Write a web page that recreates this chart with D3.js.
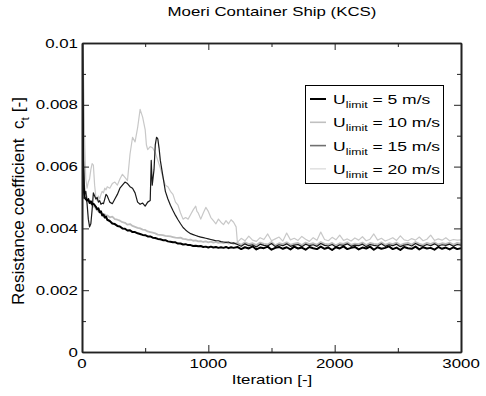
<!DOCTYPE html>
<html><head><meta charset="utf-8">
<script src="https://cdn.jsdelivr.net/npm/d3@7"></script>
<style>
body{margin:0;background:#fff}
text{fill:#000;white-space:pre}
</style>
</head><body>
<svg id="chart" width="486" height="396" font-family="'Liberation Sans', Arimo, Arial, Helvetica, sans-serif"></svg>
<script>
// ---------- DATA (resistance coefficient in units of 1e-3) ----------
const seriesNames = ["5 m/s", "10 m/s", "15 m/s", "20 m/s"];

const iterA = [0,5,10,15,20,30,40,50,60,70,80,90,100,110,120,130,140,150,160,170,180,190,200,
  220,240,260,280,300,320,340,360,380,400,420,440,460,480,500,520,540,560,580,600,620,640,660,680,700,
  720,740,760,780,800,820,840,860,880,900,920,940,960,980,1000,1020,1040,1060,1080,1100,1120,1140,1160,1180,1200];

const iter15 = [0,5,10,15,20,30,40,50,60,70,80,90,100,110,120,130,140,150,160,170,180,190,200,
  220,240,260,280,300,320,340,360,380,400,420,440,460,480,500,520,540,548,556,570,580,590,600,610,620,
  640,660,680,700,720,740,760,780,800,820,840,860,880,900,920,940,960,980,1000,1020,1040,1060,1080,1100,1120,1140,1160,1180,1200];

const iter20 = [0,10,20,30,40,50,60,70,80,90,100,110,120,130,140,150,160,170,180,190,200,
  220,240,260,280,300,320,340,360,380,400,420,440,460,480,500,510,
  520,540,560,580,600,620,640,660,680,700,720,740,760,780,800,820,840,860,880,900,910,
  920,940,960,980,1000,1020,1040,1060,1080,1100,1120,1140,1160,1180,1200,1220];

const iterTail = [1230,1260,1290,1320,1350,1380,1410,1440,1470,1500,
  1530,1560,1590,1620,1650,1680,1710,1740,1770,1800,
  1830,1860,1890,1920,1950,1980,2010,2040,2070,2100,
  2130,2160,2190,2220,2250,2280,2310,2340,2370,2400,
  2430,2460,2490,2520,2550,2580,2610,2640,2670,2700,
  2730,2760,2790,2820,2850,2880,2910,2940,2970,3000];

const ct5Head = [12.0,8.5,6.0,5.2,5.0,4.95,4.9,4.95,4.82,4.88,4.78,4.8,4.75,4.7,4.62,4.65,4.52,4.55,4.42,4.45,4.35,4.38,4.28,
  4.24,4.16,4.14,4.08,4.06,4.00,3.99,3.93,3.94,3.88, 3.88,3.84,3.82,3.79,3.78,3.74,3.74,3.70,3.69,3.66,
  3.65,3.62,3.62,3.58,3.57,3.55,3.55,3.51,3.51,3.48, 3.49,3.46,3.46,3.43,3.44,3.42,3.43,3.40,3.41,3.38,
  3.41,3.38,3.40,3.37,3.39,3.37,3.40,3.36,3.39,3.37];
const ct5Tail = [3.40,3.33,3.39,3.35,3.42,3.32,3.38,3.36,3.41,3.31,
  3.37,3.40,3.34,3.39,3.32,3.41,3.35,3.38,3.31,3.40,
  3.36,3.33,3.41,3.34,3.38,3.30,3.39,3.35,3.42,3.33,
  3.37,3.40,3.32,3.38,3.35,3.41,3.31,3.39,3.34,3.37,
  3.42,3.33,3.38,3.30,3.40,3.36,3.34,3.41,3.32,3.39,
  3.35,3.37,3.31,3.40,3.34,3.38,3.32,3.39,3.33,3.36];

const ct10Head = [11.0,8.0,6.2,5.5,5.3,5.1,5.0,4.9,4.85,4.8,4.75,4.7,4.72,4.62,4.6,4.55,4.56,4.5,4.48,4.45,4.46,4.4,4.42,
  4.36,4.38,4.30,4.28,4.25,4.20,4.18,4.12,4.14,4.08, 4.05,4.02,4.00,3.96,3.95,3.90,3.88,3.86,3.84,3.80,
  3.79,3.78,3.76,3.75,3.74,3.72,3.70,3.69,3.70,3.66, 3.65,3.63,3.64,3.60,3.61,3.58,3.59,3.56,3.58,3.55,
  3.57,3.54,3.56,3.53,3.55,3.52,3.55,3.51,3.54,3.50];
const ct10Tail = [3.53,3.47,3.55,3.49,3.52,3.46,3.54,3.50,3.48,3.56,
  3.45,3.52,3.49,3.55,3.47,3.51,3.53,3.46,3.54,3.49,
  3.52,3.47,3.56,3.50,3.48,3.53,3.45,3.52,3.50,3.55,
  3.47,3.51,3.49,3.54,3.46,3.53,3.50,3.48,3.55,3.47,
  3.52,3.49,3.54,3.46,3.51,3.53,3.48,3.56,3.50,3.47,
  3.53,3.49,3.55,3.48,3.52,3.50,3.54,3.47,3.53,3.51];

const ct15Head = [12.0,9.0,6.5,5.4,5.1,5.2,4.8,4.3,4.05,4.15,4.6,5.15,5.05,4.95,5.0,4.85,4.9,4.78,4.82,4.8,4.95,5.1,5.05,
  4.85,4.8,4.95,5.1,5.3,5.4,5.5,5.45,5.35,5.3,5.15,4.85,4.78,4.82,4.72,4.85,4.9,
  6.2,5.4,5.9,6.7,6.95,6.9,6.6,6.2,
  5.7,5.2,4.95,4.75,4.58,4.42,4.28,4.15,4.03,3.95,3.88,3.83,3.8,3.77,3.74,3.72,3.7,3.68,3.66,3.64,3.62,3.6,3.6,3.57,3.56,3.55,3.56,3.52,3.53];
const ct15Tail = [3.48,3.42,3.50,3.44,3.47,3.40,3.49,3.45,3.43,3.51,
  3.41,3.47,3.44,3.50,3.42,3.46,3.48,3.41,3.49,3.44,
  3.47,3.42,3.51,3.45,3.43,3.48,3.40,3.47,3.45,3.50,
  3.42,3.46,3.44,3.49,3.41,3.48,3.45,3.43,3.50,3.42,
  3.47,3.44,3.49,3.41,3.46,3.48,3.43,3.51,3.45,3.42,
  3.48,3.44,3.50,3.43,3.47,3.45,3.49,3.42,3.48,3.46];

const ct20Head = [12.0,9.5,7.0,5.6,5.3,5.5,5.6,5.9,6.1,6.05,5.4,5.0,4.9,5.05,4.95,5.1,5.2,5.15,5.3,5.25,5.35,
  5.3,5.45,5.5,5.4,5.6,5.75,5.65,5.55,6.4,6.95,6.8,7.25,7.85,7.6,7.2,6.7,
  6.55,6.65,6.6,6.45,6.2,5.95,5.65,5.4,5.35,5.2,5.1,4.85,4.75,4.5,4.3,4.35,4.3,4.45,4.6,4.72,4.55,
  4.5,4.3,4.5,4.68,4.55,4.35,4.25,4.15,4.3,4.2,4.12,4.25,4.15,4.28,4.2,4.05];
const ct20Tail = [3.55,3.68,3.60,3.75,3.62,3.58,3.70,3.64,3.82,3.60,
  3.66,3.72,3.59,3.85,3.63,3.68,3.61,3.74,3.65,3.58,
  3.70,3.62,3.88,3.64,3.60,3.71,3.63,3.78,3.61,3.66,
  3.59,3.69,3.62,3.73,3.60,3.65,3.82,3.62,3.68,3.59,
  3.64,3.70,3.61,3.76,3.63,3.60,3.67,3.62,3.72,3.60,
  3.65,3.78,3.61,3.66,3.62,3.70,3.60,3.64,3.62,3.63];

const xTickValues = [0,1000,2000,3000];
const xTickLabels = ["0","1000","2000","3000"];
const xMinorValues = [500,1500,2500];
const yTickValues = [0,2,4,6,8,10];
const yTickLabels = ["0","0.002","0.004","0.006","0.008","0.01"];
const yMinorValues = [1,3,5,7,9];
const titleText = "Moeri Container Ship (KCS)";
const xTitle = "Iteration [-]";

// ---------- BUILD ----------
const series = [
  {name:seriesNames[0], iter:iterA.concat(iterTail),  ct:ct5Head.concat(ct5Tail),  color:"#000000", w:2.0},
  {name:seriesNames[1], iter:iterA.concat(iterTail),  ct:ct10Head.concat(ct10Tail), color:"#bdbdbd", w:1.8},
  {name:seriesNames[2], iter:iter15.concat(iterTail), ct:ct15Head.concat(ct15Tail), color:"#1a1a1a", w:1.2},
  {name:seriesNames[3], iter:iter20.concat(iterTail), ct:ct20Head.concat(ct20Tail), color:"#c8c8c8", w:1.2}
];
const legendStyle = [
  {color:"#000000", w:2.0},{color:"#c0c0c0", w:1.6},{color:"#707070", w:1.6},{color:"#d0d0d0", w:1.0}
];

const svg = d3.select("#chart");
const x = d3.scaleLinear().domain([0,3000]).range([82,461]);
const y = d3.scaleLinear().domain([0,10]).range([352,43]);

svg.append("defs").append("clipPath").attr("id","clip")
  .append("rect").attr("x",82).attr("y",43).attr("width",379).attr("height",309);

const line = d3.line().x(d=>x(d[0])).y(d=>y(d[1]));
const plot = svg.append("g").attr("clip-path","url(#clip)");
[3,1,2,0].forEach(i=>{
  const s = series[i];
  plot.append("path")
    .datum(s.iter.map((it,k)=>[it,s.ct[k]]))
    .attr("d",line).attr("fill","none")
    .attr("stroke",s.color).attr("stroke-width",s.w).attr("stroke-linejoin","round");
});

// axes with inward ticks
function styleAxis(g){ g.selectAll("path,line").attr("stroke","#222"); g.selectAll("text").remove(); }
const mk = (axis, tr) => svg.append("g").attr("transform",tr).call(axis).call(styleAxis);
mk(d3.axisBottom(x).tickValues(xTickValues).tickSizeInner(-7).tickSizeOuter(0), "translate(0,352)");
mk(d3.axisBottom(x).tickValues(xMinorValues).tickSizeInner(-4).tickSizeOuter(0), "translate(0,352)");
mk(d3.axisTop(x).tickValues(xTickValues).tickSizeInner(-7).tickSizeOuter(0), "translate(0,43)");
mk(d3.axisTop(x).tickValues(xMinorValues).tickSizeInner(-4).tickSizeOuter(0), "translate(0,43)");
mk(d3.axisLeft(y).tickValues(yTickValues).tickSizeInner(-7).tickSizeOuter(0), "translate(82,0)");
mk(d3.axisLeft(y).tickValues(yMinorValues).tickSizeInner(-4).tickSizeOuter(0), "translate(82,0)");
mk(d3.axisRight(y).tickValues(yTickValues).tickSizeInner(-7).tickSizeOuter(0), "translate(461,0)");
mk(d3.axisRight(y).tickValues(yMinorValues).tickSizeInner(-4).tickSizeOuter(0), "translate(461,0)");
svg.selectAll(".domain").attr("stroke","#222").attr("stroke-width",1.6);

// the original figure's text is horizontally stretched; measure the font and match the title width
const probe = svg.append("text").attr("font-size",13).text(titleText);
const SX = 209 / probe.node().getComputedTextLength();
probe.remove();

function stext(xp, yp, str, anchor, size){
  return svg.append("text").attr("transform",`translate(${xp},${yp}) scale(${SX},1)`)
    .attr("text-anchor",anchor).attr("font-size",size).text(str);
}
// tick labels
xTickValues.forEach((v,i)=> stext(x(v), 368, xTickLabels[i], "middle", 13));
yTickValues.forEach((v,i)=> stext(78, y(v)+4.5, yTickLabels[i], "end", 13));

// title and axis titles
stext(272, 16, titleText, "middle", 13);
stext(272, 384, xTitle, "middle", 13);
const yl = svg.append("text").attr("text-anchor","middle").attr("font-size",13);
yl.append("tspan").text("Resistance coefficient  c");
yl.append("tspan").attr("font-size",9).attr("dy",4).text("t");
yl.append("tspan").attr("dy",-4).text(" [-]");
const ylLen = yl.node().getComputedTextLength();
yl.attr("transform",`translate(24,201) scale(${SX},1) rotate(-90) scale(${208/ylLen},1)`);

// legend
svg.append("rect").attr("x",305.5).attr("y",85.5).attr("width",138).attr("height",98)
  .attr("fill","#fff").attr("stroke","#000").attr("stroke-width",1);
series.forEach((s,i)=>{
  const ly = 99 + i*23.3;
  svg.append("line").attr("x1",310).attr("x2",326).attr("y1",ly).attr("y2",ly)
    .attr("stroke",legendStyle[i].color).attr("stroke-width",legendStyle[i].w);
  const t = svg.append("text").attr("transform",`translate(333,${ly+5}) scale(${SX},1)`).attr("font-size",13.5);
  t.append("tspan").text("U");
  t.append("tspan").attr("font-size",9.5).attr("dy",4).text("limit");
  t.append("tspan").attr("dy",-4).text(" = " + s.name);
});
</script>
</body></html>
